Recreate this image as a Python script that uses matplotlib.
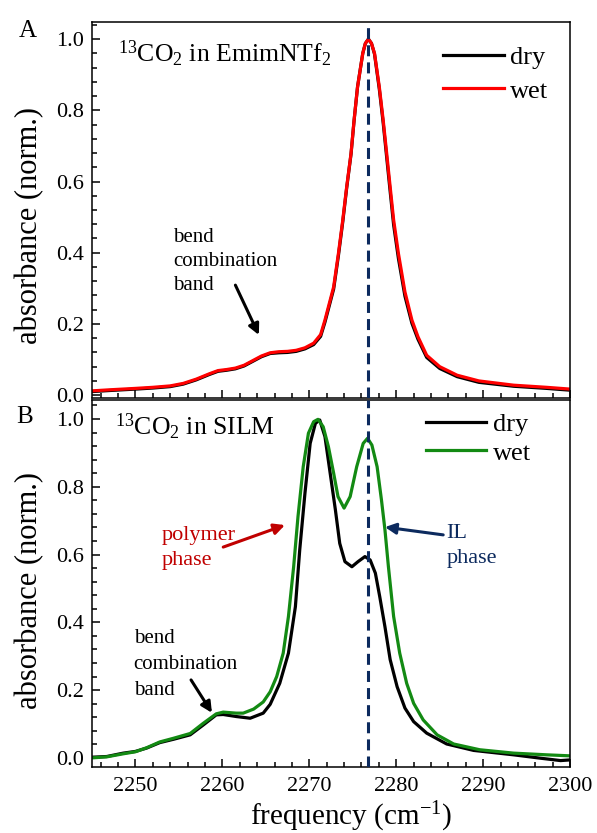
import numpy as np
import matplotlib
matplotlib.use('Agg')
import matplotlib.pyplot as plt
from matplotlib.ticker import MultipleLocator, FormatStrFormatter

plt.rcParams['font.family'] = ['Liberation Serif', 'DejaVu Serif']
plt.rcParams['mathtext.fontset'] = 'custom'
plt.rcParams['mathtext.rm'] = 'Liberation Serif'
plt.rcParams['mathtext.it'] = 'Liberation Serif:italic'

# panel A: 13CO2 in EmimNTf2
freq_a = [2245, 2247, 2250, 2252, 2254, 2255.5, 2257, 2258.5, 2259.5, 2260.5,
          2261.5, 2262.5, 2263.5, 2264.5, 2265.5, 2266.5, 2267.5, 2268.5, 2269.5,
          2270.5, 2271.3, 2271.8, 2272.8, 2273.35, 2273.85, 2274.3, 2274.8, 2275.15,
          2275.55, 2276.15, 2276.45, 2276.8, 2277.15, 2277.5, 2278.05, 2278.5, 2278.9,
          2279.3, 2279.7, 2280.25, 2281.0, 2281.8, 2282.5, 2283.5, 2285, 2287,
          2289.5, 2293.5, 2297.3, 2300]
wet_a = [0.012, 0.015, 0.019, 0.022, 0.026, 0.033, 0.045, 0.060, 0.069, 0.072,
         0.076, 0.084, 0.097, 0.110, 0.119, 0.122, 0.123, 0.126, 0.133,
         0.146, 0.170, 0.211, 0.304, 0.398, 0.492, 0.585, 0.679, 0.772,
         0.866, 0.960, 0.988, 1.000, 0.988, 0.960, 0.866, 0.772, 0.679,
         0.585, 0.492, 0.398, 0.290, 0.211, 0.164, 0.112, 0.080, 0.056,
         0.040, 0.028, 0.022, 0.017]
dry_a = [0.010, 0.013, 0.017, 0.020, 0.024, 0.031, 0.043, 0.058, 0.067, 0.070,
         0.074, 0.082, 0.095, 0.108, 0.117, 0.119, 0.120, 0.123, 0.130,
         0.142, 0.165, 0.205, 0.298, 0.392, 0.487, 0.582, 0.677, 0.771,
         0.866, 0.960, 0.988, 1.000, 0.988, 0.958, 0.860, 0.764, 0.668,
         0.572, 0.478, 0.384, 0.278, 0.202, 0.157, 0.106, 0.075, 0.052,
         0.036, 0.025, 0.019, 0.014]

# panel B: 13CO2 in SILM
freq_b_dry = [2245, 2246.7, 2248.6, 2250, 2251.3, 2252.8, 2254.4, 2256.3, 2257.8,
              2259.3, 2260.1, 2261.6, 2263.2, 2264.7, 2265.5, 2266.6, 2267.6,
              2268.4, 2268.9, 2269.5, 2270.1, 2270.7, 2271.2, 2271.8, 2272.4,
              2273.0, 2273.5, 2274.1, 2274.9, 2275.6, 2276.4, 2277.0, 2277.6,
              2278.1, 2278.7, 2279.3, 2280.1, 2281.0, 2282.0, 2283.5, 2285.8,
              2288.9, 2293.5, 2296.6, 2298.9, 2300]
dry_b = [0.002, 0.004, 0.014, 0.019, 0.029, 0.045, 0.055, 0.068, 0.097,
         0.127, 0.128, 0.122, 0.117, 0.132, 0.158, 0.220, 0.309,
         0.446, 0.614, 0.781, 0.928, 0.987, 0.997, 0.948, 0.840,
         0.732, 0.633, 0.579, 0.564, 0.579, 0.594, 0.584, 0.545,
         0.476, 0.387, 0.290, 0.210, 0.147, 0.107, 0.073, 0.041,
         0.022, 0.009, -0.001, -0.008, -0.006]
freq_b_wet = [2245, 2246.7, 2248.6, 2250, 2251.3, 2252.8, 2254.4, 2256.3, 2257.8,
              2259.3, 2260.1, 2261.6, 2262.4, 2263.6, 2264.7, 2265.5, 2266.25,
              2267.0, 2267.6, 2268.2, 2268.7, 2269.3, 2269.9, 2270.5, 2271.0,
              2271.6, 2272.2, 2272.8, 2273.3, 2274.0, 2274.7, 2275.45, 2276.2,
              2276.7, 2277.2, 2277.8, 2278.3, 2278.7, 2279.1, 2279.7, 2280.4,
              2281.2, 2282.0, 2283.1, 2284.7, 2286.6, 2289.6, 2293.5, 2297.3, 2300]
wet_b = [0.000, 0.003, 0.012, 0.018, 0.030, 0.047, 0.058, 0.072, 0.102,
         0.130, 0.135, 0.132, 0.132, 0.144, 0.165, 0.195, 0.240,
         0.309, 0.417, 0.564, 0.712, 0.859, 0.958, 0.992, 0.999,
         0.977, 0.918, 0.840, 0.771, 0.737, 0.771, 0.859, 0.928,
         0.943, 0.923, 0.859, 0.761, 0.673, 0.564, 0.417, 0.309,
         0.220, 0.161, 0.112, 0.068, 0.041, 0.024, 0.014, 0.009, 0.006]

il_peak = 2276.7
navy = '#0c2a5e'
green = '#138a13'
dark_red = '#c00000'


def arrow(ax, tail, head, color):
    ax.annotate('', xy=head, xytext=tail,
                arrowprops=dict(arrowstyle='-|>', color=color, lw=2.2,
                                mutation_scale=16, shrinkA=0, shrinkB=0))


fig = plt.figure(figsize=(5.97, 8.33), dpi=100)
ax_a = fig.add_axes([0.154, 0.5222, 0.801, 0.4514])
ax_b = fig.add_axes([0.154, 0.0792, 0.801, 0.4406])

for ax in (ax_a, ax_b):
    ax.set_xlim(2245, 2300)
    ax.xaxis.set_major_locator(MultipleLocator(10))
    ax.xaxis.set_minor_locator(MultipleLocator(2))
    ax.yaxis.set_major_locator(MultipleLocator(0.2))
    ax.yaxis.set_minor_locator(MultipleLocator(0.04))
    ax.yaxis.set_major_formatter(FormatStrFormatter('%.1f'))
    ax.tick_params(which='both', direction='in', top=False, right=False,
                   labelsize=16, width=1.1)
    ax.tick_params(which='major', length=6)
    ax.tick_params(which='minor', length=3.5)
    ax.tick_params(axis='y', pad=6)
    for s in ax.spines.values():
        s.set_linewidth(1.1)
    ax.axvline(il_peak, color=navy, lw=2.2, linestyle=(0, (3.6, 2.0)), zorder=5)
    ax.set_ylabel('absorbance (norm.)', fontsize=22)

ax_a.set_ylim(-0.008, 1.048)
ax_b.set_ylim(-0.027, 1.056)
ax_a.tick_params(labelbottom=False)
ax_b.tick_params(axis='x', pad=7)
ax_a.yaxis.set_label_coords(-0.10, 0.46)
ax_b.yaxis.set_label_coords(-0.10, 0.48)

# panel A
ax_a.plot(freq_a, dry_a, color='black', lw=2.3, label='dry')
ax_a.plot(freq_a, wet_a, color='#ff0000', lw=2.3, label='wet')
ax_a.text(0.054, 0.894, r'$^{13}$CO$_2$ in EmimNTf$_2$', transform=ax_a.transAxes,
          fontsize=18.5, va='baseline')
ax_a.legend(loc='upper left', bbox_to_anchor=(0.734, 0.938), frameon=False,
            fontsize=19, handlelength=2.3, handletextpad=0.25, labelspacing=0.39,
            borderpad=0, borderaxespad=0)
ax_a.text(2254.3, 0.376, 'bend\ncombination\nband', fontsize=15,
          va='center', ha='left', linespacing=1.37)
arrow(ax_a, (2261.5, 0.309), (2264.2, 0.169), 'black')

# panel B
ax_b.plot(freq_b_dry, dry_b, color='black', lw=2.3, label='dry')
ax_b.plot(freq_b_wet, wet_b, color=green, lw=2.3, label='wet')
ax_b.text(0.048, 0.905, r'$^{13}$CO$_2$ in SILM', transform=ax_b.transAxes,
          fontsize=18.5, va='baseline')
ax_b.legend(loc='upper left', bbox_to_anchor=(0.698, 0.966), frameon=False,
            fontsize=19, handlelength=2.3, handletextpad=0.25, labelspacing=0.2,
            borderpad=0, borderaxespad=0)
ax_b.text(2249.8, 0.277, 'bend\ncombination\nband', fontsize=15,
          va='center', ha='left', linespacing=1.5)
arrow(ax_b, (2256.4, 0.230), (2258.8, 0.133), 'black')
ax_b.text(2253.0, 0.62, 'polymer\nphase', fontsize=16, color=dark_red,
          va='center', ha='left', linespacing=1.4)
arrow(ax_b, (2260.1, 0.622), (2267.2, 0.687), dark_red)
ax_b.text(2285.8, 0.625, 'IL\nphase', fontsize=16, color=navy,
          va='center', ha='left', linespacing=1.45)
arrow(ax_b, (2285.4, 0.658), (2278.7, 0.681), navy)

ax_b.set_xlabel('frequency (cm$^{-1}$)', fontsize=21)
ax_b.xaxis.set_label_coords(0.542, -0.09)

fig.text(28 / 597, 1 - 31 / 833, 'A', fontsize=18, ha='center', va='center')
fig.text(25 / 597, 1 - 417 / 833, 'B', fontsize=18, ha='center', va='center')

fig.savefig('out.png', dpi=100)
